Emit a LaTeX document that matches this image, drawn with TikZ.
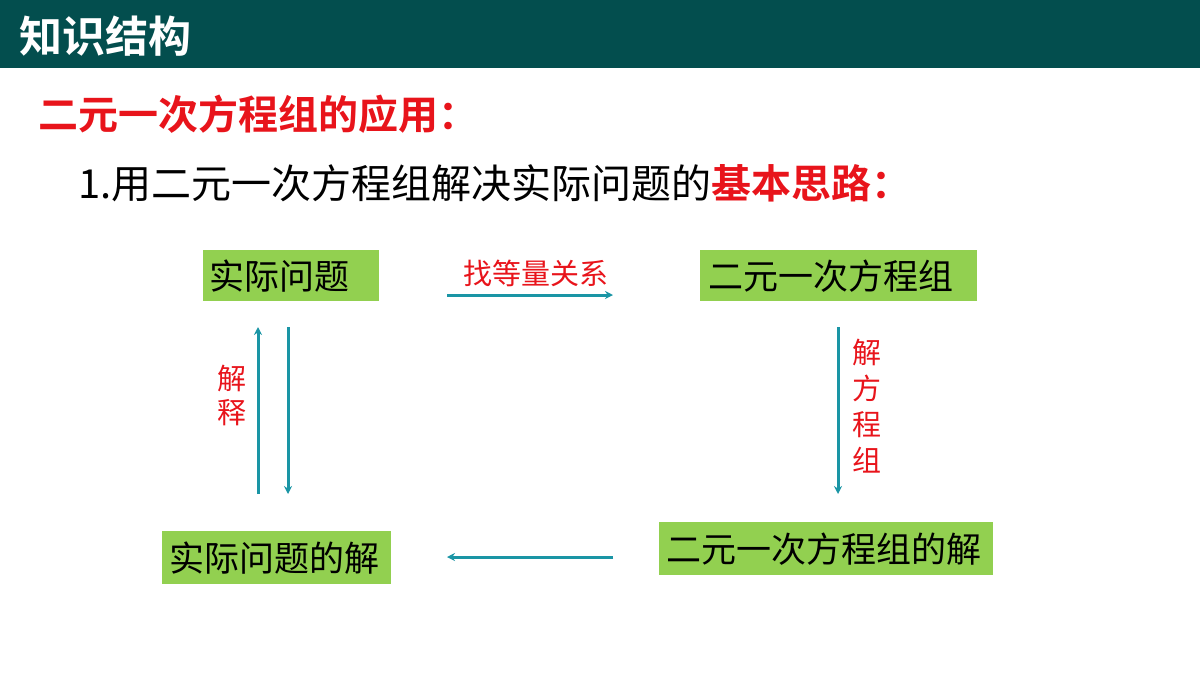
\documentclass[tikz,border=0pt]{standalone}
\usepackage{fontspec}
\setmainfont{Noto Sans CJK SC}
\newfontfamily\cjkb{Noto Sans CJK SC Bold}
\usetikzlibrary{arrows.meta}
\definecolor{hdr}{HTML}{034E4E}
\definecolor{gbox}{HTML}{92D050}
\definecolor{arr}{HTML}{1A95A5}
\definecolor{rd}{HTML}{E8141B}
\begin{document}
\begin{tikzpicture}[x=0.5pt,y=-0.5pt,
  box/.style={fill=gbox,inner sep=0pt},
  bt/.style={anchor=west,inner sep=0pt,font=\fontsize{17.5}{20}\selectfont},
  lab/.style={text=rd,font=\fontsize{14.5}{17}\selectfont,inner sep=0pt},
  con/.style={draw=arr,line width=1.5pt,-{Stealth[length=4pt,width=4pt]}}]
\useasboundingbox (0,0) rectangle (1200,675);
\fill[hdr] (0,0) rectangle (1200,68);
\node[anchor=west,text=white,inner sep=0pt,font=\cjkb\fontsize{21.5}{24}\selectfont] (t) at (19,36) {知识结构};
\node[anchor=west,text=rd,inner sep=0pt,font=\cjkb\fontsize{20}{22}\selectfont] (s) at (38,114) {二元一次方程组的应用：};
\node[anchor=west,inner sep=0pt,font=\fontsize{20}{22}\selectfont] (p) at (78,183) {1.用二元一次方程组解决实际问题的\textcolor{rd}{\cjkb 基本思路：}};
\node[box,minimum width=88pt,minimum height=25.5pt] (a) at (291,275.5) {};
\node[bt] at (209,276) {实际问题};
\node[box,minimum width=138.5pt,minimum height=25.5pt] (b) at (838.5,275.5) {};
\node[bt] at (708,276) {二元一次方程组};
\node[box,minimum width=167pt,minimum height=26.5pt] (c) at (826,548.5) {};
\node[bt] at (666,549) {二元一次方程组的解};
\node[box,minimum width=114.5pt,minimum height=26.5pt] (d) at (276.5,557.5) {};
\node[bt] at (169,558) {实际问题的解};
\coordinate (h1) at (447,295); \coordinate (h2) at (613,295);
\draw[con] (h1) -- (h2);
\node[lab] (l1) at (536,273) {找等量关系};
\coordinate (v1) at (838,327); \coordinate (v2) at (838,494);
\draw[con] (v1) -- (v2);
\node[lab,align=center,font=\fontsize{14.5}{18}\selectfont] (l2) at (867,406) {解\\方\\程\\组};
\coordinate (g1) at (613,557); \coordinate (g2) at (447,557);
\draw[con] (g1) -- (g2);
\coordinate (u1) at (258,494); \coordinate (u2) at (258,327);
\draw[con] (u1) -- (u2);
\coordinate (w1) at (288,327); \coordinate (w2) at (288,494);
\draw[con] (w1) -- (w2);
\node[lab,align=center,font=\fontsize{14.5}{17}\selectfont] (l3) at (232,395) {解\\释};
\end{tikzpicture}
\end{document}
